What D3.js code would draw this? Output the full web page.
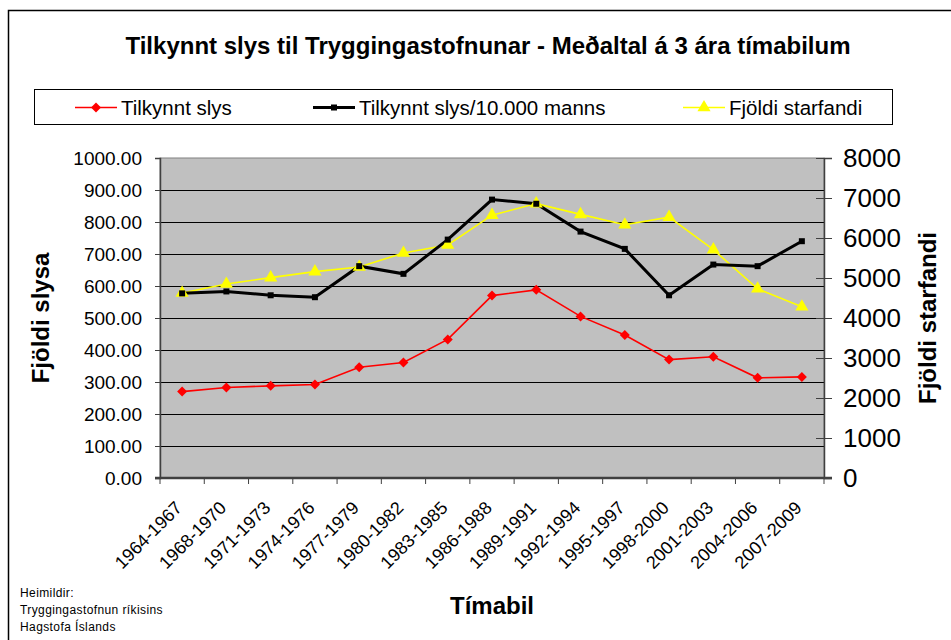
<!DOCTYPE html>
<html>
<head>
<meta charset="utf-8">
<script src="https://cdn.jsdelivr.net/npm/d3@7"></script>
<style>
  body { margin: 0; background: #fff; }
  svg { display: block; font-family: Arial, "Liberation Sans", sans-serif; }
</style>
</head>
<body>
<svg id="chart" width="951" height="640"></svg>
<script>
const categories = ["1964-1967","1968-1970","1971-1973","1974-1976","1977-1979","1980-1982","1983-1985","1986-1988","1989-1991","1992-1994","1995-1997","1998-2000","2001-2003","2004-2006","2007-2009"];
const slys = [270, 283, 288, 292, 346, 361, 433, 570, 588, 505, 447, 370, 379, 313, 316];
const slysPer10000 = [577, 583, 571, 565, 662, 638, 745, 870, 857, 770, 716, 571, 667, 662, 740];
const starfandi = [4625, 4850, 5010, 5160, 5275, 5625, 5825, 6570, 6860, 6590, 6330, 6520, 5710, 4730, 4280];
const leftTicks = [0, 100, 200, 300, 400, 500, 600, 700, 800, 900, 1000];
const rightTicks = [0, 1000, 2000, 3000, 4000, 5000, 6000, 7000, 8000];
const seriesNames = ["Tilkynnt slys", "Tilkynnt slys/10.000 manns", "Fjöldi starfandi"];

const svg = d3.select("#chart");
const L = 160, R = 824, T = 158, B = 478;

// outer frame
svg.append("rect").attr("x", 8.5).attr("y", 10.5).attr("width", 960).attr("height", 660)
  .attr("fill", "#fff").attr("stroke", "#000").attr("stroke-width", 1.5);

// title
svg.append("text").attr("x", 488).attr("y", 54).attr("text-anchor", "middle")
  .attr("font-weight", "bold").attr("font-size", 24)
  .text("Tilkynnt slys til Tryggingastofnunar - Meðaltal á 3 ára tímabilum");

const x = d3.scaleBand().domain(categories).range([L, R]).padding(0);
const cx = c => x(c) + x.bandwidth() / 2;
const yL = d3.scaleLinear().domain([0, 1000]).range([B, T]);
const yR = d3.scaleLinear().domain([0, 8000]).range([B, T]);

// plot area
svg.append("rect").attr("x", L).attr("y", T).attr("width", R - L).attr("height", B - T)
  .attr("fill", "#c0c0c0").attr("stroke", "#808080").attr("stroke-width", 1);

// gridlines
svg.append("g").selectAll("line").data(leftTicks.filter(d => d > 0 && d < 1000)).join("line")
  .attr("x1", L).attr("x2", R).attr("y1", d => Math.round(yL(d)) + 0.5).attr("y2", d => Math.round(yL(d)) + 0.5)
  .attr("stroke", "#000").attr("stroke-width", 1);

// left axis
const gl = svg.append("g").attr("transform", `translate(${L},0)`)
  .call(d3.axisLeft(yL).tickValues(leftTicks).tickFormat(d3.format(".2f")).tickSize(5).tickPadding(13));
gl.select(".domain").attr("stroke", "#404040").attr("stroke-width", 1.5);
gl.selectAll(".tick line").attr("stroke", "#404040");
gl.selectAll(".tick text").attr("font-size", 19).attr("font-family", "Arial, 'Liberation Sans', sans-serif").attr("fill", "#000");

// right axis
const gr = svg.append("g").attr("transform", `translate(${R},0)`)
  .call(d3.axisRight(yR).tickValues(rightTicks).tickFormat(d3.format("d")).tickSize(8).tickPadding(11));
gr.select(".domain").attr("stroke", "#404040").attr("stroke-width", 1.5);
gr.selectAll(".tick line").attr("x1", -8).attr("stroke", "#404040");
gr.selectAll(".tick text").attr("font-size", 26).attr("font-family", "Arial, 'Liberation Sans', sans-serif").attr("fill", "#000");

// bottom axis
const gb = svg.append("g").attr("transform", `translate(0,${B})`);
gb.append("line").attr("x1", L - 5).attr("x2", R + 8).attr("y1", 0).attr("y2", 0).attr("stroke", "#404040").attr("stroke-width", 2.5);
const bTicks = categories.map(c => x(c)).concat([R]);
gb.selectAll("line.t").data(bTicks).join("line").attr("class", "t")
  .attr("x1", d => d).attr("x2", d => d).attr("y1", 0).attr("y2", 6).attr("stroke", "#404040");
gb.selectAll("text").data(categories).join("text")
  .attr("transform", c => `translate(${cx(c) + 1},31) rotate(-45)`)
  .attr("text-anchor", "end").attr("font-size", 18).text(c => c);

// series
const line = (vals, ys) => d3.line().x((d, i) => cx(categories[i])).y(d => ys(d))(vals);

svg.append("path").attr("d", line(starfandi, yR)).attr("fill", "none").attr("stroke", "#ffff00").attr("stroke-width", 1.6);
svg.append("path").attr("d", line(slysPer10000, yL)).attr("fill", "none").attr("stroke", "#000").attr("stroke-width", 3);
svg.append("path").attr("d", line(slys, yL)).attr("fill", "none").attr("stroke", "#ff0000").attr("stroke-width", 1.6);

const diamond = d3.symbol().type(d3.symbolSquare).size(50)();
const square = d3.symbol().type(d3.symbolSquare).size(36)();
const tri = d3.symbol().type(d3.symbolTriangle).size(75)();

svg.append("g").selectAll("path").data(starfandi).join("path")
  .attr("d", tri).attr("transform", (d, i) => `translate(${cx(categories[i])},${yR(d)})`).attr("fill", "#ffff00");
svg.append("g").selectAll("path").data(slysPer10000).join("path")
  .attr("d", square).attr("transform", (d, i) => `translate(${cx(categories[i])},${yL(d)})`).attr("fill", "#000");
svg.append("g").selectAll("path").data(slys).join("path")
  .attr("d", diamond).attr("transform", (d, i) => `translate(${cx(categories[i])},${yL(d)}) rotate(45)`).attr("fill", "#ff0000");

// axis titles
svg.append("text").attr("transform", `translate(49,${(T + B) / 2}) rotate(-90)`).attr("text-anchor", "middle")
  .attr("font-weight", "bold").attr("font-size", 24).text("Fjöldi slysa");
svg.append("text").attr("transform", `translate(936,${(T + B) / 2}) rotate(-90)`).attr("text-anchor", "middle")
  .attr("font-weight", "bold").attr("font-size", 24).text("Fjöldi starfandi");
svg.append("text").attr("x", 492).attr("y", 614).attr("text-anchor", "middle")
  .attr("font-weight", "bold").attr("font-size", 24).text("Tímabil");

// legend
const lg = svg.append("g");
lg.append("rect").attr("x", 34.5).attr("y", 89.5).attr("width", 858).attr("height", 35)
  .attr("fill", "#fff").attr("stroke", "#000").attr("stroke-width", 1);
const legendItems = [
  { name: seriesNames[0], x0: 75, color: "#ff0000", w: 1.6, sym: diamond, rot: 45 },
  { name: seriesNames[1], x0: 313, color: "#000", w: 3, sym: square, rot: 0 },
  { name: seriesNames[2], x0: 683, color: "#ffff00", w: 1.6, sym: tri, rot: 0 }
];
legendItems.forEach(it => {
  lg.append("line").attr("x1", it.x0).attr("x2", it.x0 + 42).attr("y1", 107.5).attr("y2", 107.5)
    .attr("stroke", it.color).attr("stroke-width", it.w);
  lg.append("path").attr("d", it.sym).attr("transform", `translate(${it.x0 + 21},107.5) rotate(${it.rot})`).attr("fill", it.color);
  lg.append("text").attr("x", it.x0 + 46).attr("y", 114.5).attr("font-size", 20.5).text(it.name);
});

// sources
const src = ["Heimildir:", "Tryggingastofnun ríkisins", "Hagstofa Íslands"];
svg.append("g").selectAll("text").data(src).join("text")
  .attr("x", 20).attr("y", (d, i) => 597 + i * 17).attr("font-size", 12).attr("letter-spacing", 0.4).text(d => d);
</script>
</body>
</html>
